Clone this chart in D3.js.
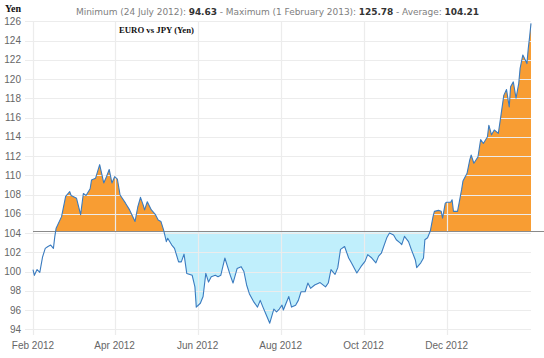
<!DOCTYPE html>
<html><head><meta charset="utf-8">
<script src="https://cdn.jsdelivr.net/npm/d3@7"></script>
<style>html,body{margin:0;padding:0;background:#fff}svg{display:block}</style>
</head><body>
<svg id="chart" width="544" height="358"></svg>
<script>
// ---- data ----
const dates = ["2012-02-01","2012-02-02","2012-02-04","2012-02-06","2012-02-08","2012-02-10","2012-02-12","2012-02-14","2012-02-16","2012-02-17","2012-02-18","2012-02-22","2012-02-25","2012-02-28","2012-02-29","2012-03-04","2012-03-07","2012-03-09","2012-03-11","2012-03-14","2012-03-15","2012-03-18","2012-03-21","2012-03-24","2012-03-26","2012-03-28","2012-03-30","2012-04-01","2012-04-03","2012-04-05","2012-04-09","2012-04-12","2012-04-16","2012-04-18","2012-04-20","2012-04-22","2012-04-23","2012-04-25","2012-04-28","2012-05-01","2012-05-03","2012-05-05","2012-05-07","2012-05-09","2012-05-10","2012-05-13","2012-05-15","2012-05-18","2012-05-20","2012-05-22","2012-05-24","2012-05-28","2012-05-30","2012-05-31","2012-06-03","2012-06-05","2012-06-07","2012-06-09","2012-06-11","2012-06-14","2012-06-16","2012-06-18","2012-06-21","2012-06-25","2012-06-27","2012-06-30","2012-07-03","2012-07-05","2012-07-07","2012-07-09","2012-07-12","2012-07-15","2012-07-17","2012-07-19","2012-07-22","2012-07-24","2012-07-27","2012-07-29","2012-07-31","2012-08-02","2012-08-03","2012-08-07","2012-08-09","2012-08-12","2012-08-14","2012-08-16","2012-08-19","2012-08-21","2012-08-23","2012-08-26","2012-08-30","2012-09-03","2012-09-05","2012-09-07","2012-09-10","2012-09-12","2012-09-14","2012-09-17","2012-09-20","2012-09-22","2012-09-26","2012-09-29","2012-10-02","2012-10-04","2012-10-07","2012-10-10","2012-10-12","2012-10-14","2012-10-17","2012-10-18","2012-10-20","2012-10-23","2012-10-25","2012-10-28","2012-10-29","2012-10-31","2012-11-03","2012-11-05","2012-11-08","2012-11-09","2012-11-12","2012-11-14","2012-11-15","2012-11-17","2012-11-19","2012-11-21","2012-11-22","2012-11-25","2012-11-27","2012-11-28","2012-11-30","2012-12-01","2012-12-04","2012-12-05","2012-12-06","2012-12-09","2012-12-12","2012-12-13","2012-12-16","2012-12-18","2012-12-19","2012-12-21","2012-12-24","2012-12-26","2012-12-28","2012-12-31","2013-01-01","2013-01-03","2013-01-05","2013-01-08","2013-01-10","2013-01-12","2013-01-14","2013-01-16","2013-01-17","2013-01-19","2013-01-21","2013-01-23","2013-01-24","2013-01-26","2013-01-27","2013-01-29","2013-01-30","2013-01-31","2013-02-01"];
const rates = [100.2,99.6,100.2,99.9,101.5,102.4,102.6,102.75,102.4,103.6,104.5,105.7,107.8,108.3,107.9,107.6,105.9,108.1,107.9,108.6,109.5,109.7,111.1,109.2,109.85,110.6,109.2,109.85,109.6,107.95,107.1,106.4,105.2,106.7,107.7,106.9,106.4,107.25,106.4,105.9,105.35,105.2,104.3,103.1,103.45,102.75,102.4,101.0,101.0,101.8,99.8,99.6,98.4,96.3,96.7,97.4,99.8,98.9,99.45,99.6,99.45,99.6,101.4,99.6,98.8,100.3,100.5,100.0,98.6,97.7,96.9,96.3,97.0,96.3,95.3,94.63,96.1,95.8,96.1,96.5,96.0,97.4,96.3,96.5,97.0,97.9,97.9,98.8,98.25,98.6,98.85,98.4,98.8,100.2,99.7,100.4,102.3,102.6,101.4,100.9,99.85,100.5,101.05,101.75,101.4,100.9,101.6,101.9,103.1,103.5,104.0,103.8,103.3,102.95,102.8,103.65,103.1,102.3,101.2,100.4,100.9,101.4,103.3,103.5,104.2,105.7,106.25,106.35,106.25,105.55,107.1,107.2,107.2,107.45,106.25,106.25,108.5,109.4,110.2,111.6,112.1,111.25,111.9,113.7,113.3,114.0,115.2,114.2,114.7,114.35,116.3,118.3,118.9,117.1,119.2,119.7,118.0,119.55,121.1,122.5,122.2,121.6,123.2,124.4,125.78];
const average = 104.21;
const fillFrom = "2012-02-17";
const yTicks = [94,96,98,100,102,104,106,108,110,112,114,116,118,120,122,124,126];
const xTickDates = ["2012-02-01","2012-04-01","2012-06-01","2012-08-01","2012-10-01","2012-12-01"];
const xTickLabels = ["Feb 2012","Apr 2012","Jun 2012","Aug 2012","Oct 2012","Dec 2012"];
const titleParts = [["Minimum (24 July 2012): ",false],["94.63",true],[" - Maximum (1 February 2013): ",false],["125.78",true],[" - Average: ",false],["104.21",true]];
const chartTitle = "EURO vs JPY (Yen)";
const yUnit = "Yen";

// ---- drawing ----
const parse = d3.utcParse("%Y-%m-%d");
const data = dates.map((d,i)=>({date:parse(d), v:rates[i]}));
const svg = d3.select("#chart");
const x = d3.scaleUtc().domain([parse("2012-02-01"), parse("2013-02-01")]).range([33, 531]);
const y = d3.scaleLinear().domain([94,126]).range([329.25, 21.25]);

// fills
const fd = data.filter(d => d.date >= parse(fillFrom));
const yAvg = y(average);
const defs = svg.append("defs");
defs.append("clipPath").attr("id","above").append("rect").attr("x",0).attr("y",0).attr("width",544).attr("height",yAvg);
defs.append("clipPath").attr("id","below").append("rect").attr("x",0).attr("y",yAvg+1.5).attr("width",544).attr("height",358);
const area = d3.area().x(d=>x(d.date)).y0(yAvg).y1(d=>y(d.v));
svg.append("path").datum(fd).attr("d",area).attr("fill","#f89d33").attr("clip-path","url(#above)");
svg.append("path").datum(fd).attr("d",area).attr("fill","#c0effc").attr("clip-path","url(#below)");

// grid
svg.append("g").selectAll("line").data(yTicks).join("line")
  .attr("x1",25).attr("x2",531).attr("y1",d=>Math.round(y(d))+0.5).attr("y2",d=>Math.round(y(d))+0.5)
  .attr("stroke","#ececec").attr("stroke-width",1.2);
svg.append("g").selectAll("line").data(xTickDates).join("line")
  .attr("x1",d=>Math.round(x(parse(d)))+0.5).attr("x2",d=>Math.round(x(parse(d)))+0.5)
  .attr("y1",22).attr("y2",335).attr("stroke","#ececec").attr("stroke-width",1.2);

// average line
svg.append("line").attr("x1",33).attr("x2",544).attr("y1",Math.round(yAvg)+0.5).attr("y2",Math.round(yAvg)+0.5)
  .attr("stroke","#8a8a8a").attr("stroke-width",1);

// data line
svg.append("path").datum(data).attr("d",d3.line().x(d=>x(d.date)).y(d=>y(d.v)))
  .attr("fill","none").attr("stroke","#3a7bbf").attr("stroke-width",1.1).attr("stroke-linejoin","round");

// y labels
svg.append("g").selectAll("text").data(yTicks).join("text")
  .attr("x",21).attr("y",d=>y(d)+3.5).attr("text-anchor","end")
  .attr("font-family","Liberation Sans, Arial, sans-serif").attr("font-size",10).attr("fill","#666")
  .text(d=>d);
// x labels
svg.append("g").selectAll("text").data(xTickDates).join("text")
  .attr("x",d=>x(parse(d))).attr("y",349).attr("text-anchor","middle")
  .attr("font-family","Liberation Sans, Arial, sans-serif").attr("font-size",10).attr("fill","#666")
  .text((d,i)=>xTickLabels[i]);

// titles
const t = svg.append("text").attr("x",76).attr("y",15).attr("font-family","DejaVu Sans, sans-serif")
  .attr("font-size",9).attr("fill","#808080").attr("textLength",403).attr("lengthAdjust","spacing");
titleParts.forEach(([s,b])=>{
  t.append("tspan").text(s).attr("font-weight",b?"bold":"normal").attr("fill",b?"#333":"#808080");
});
t.attr("xml:space","preserve").style("white-space","pre");
svg.append("text").attr("x",5).attr("y",12).attr("font-family","Liberation Serif, Times New Roman, serif")
  .attr("font-weight","bold").attr("font-size",10).attr("fill","#111").text(yUnit);
svg.append("text").attr("x",119).attr("y",33).attr("font-family","Liberation Serif, Times New Roman, serif")
  .attr("font-weight","bold").attr("font-size",9).attr("fill","#111")
  .attr("textLength",75).attr("lengthAdjust","spacingAndGlyphs").text(chartTitle);
</script>
</body></html>
